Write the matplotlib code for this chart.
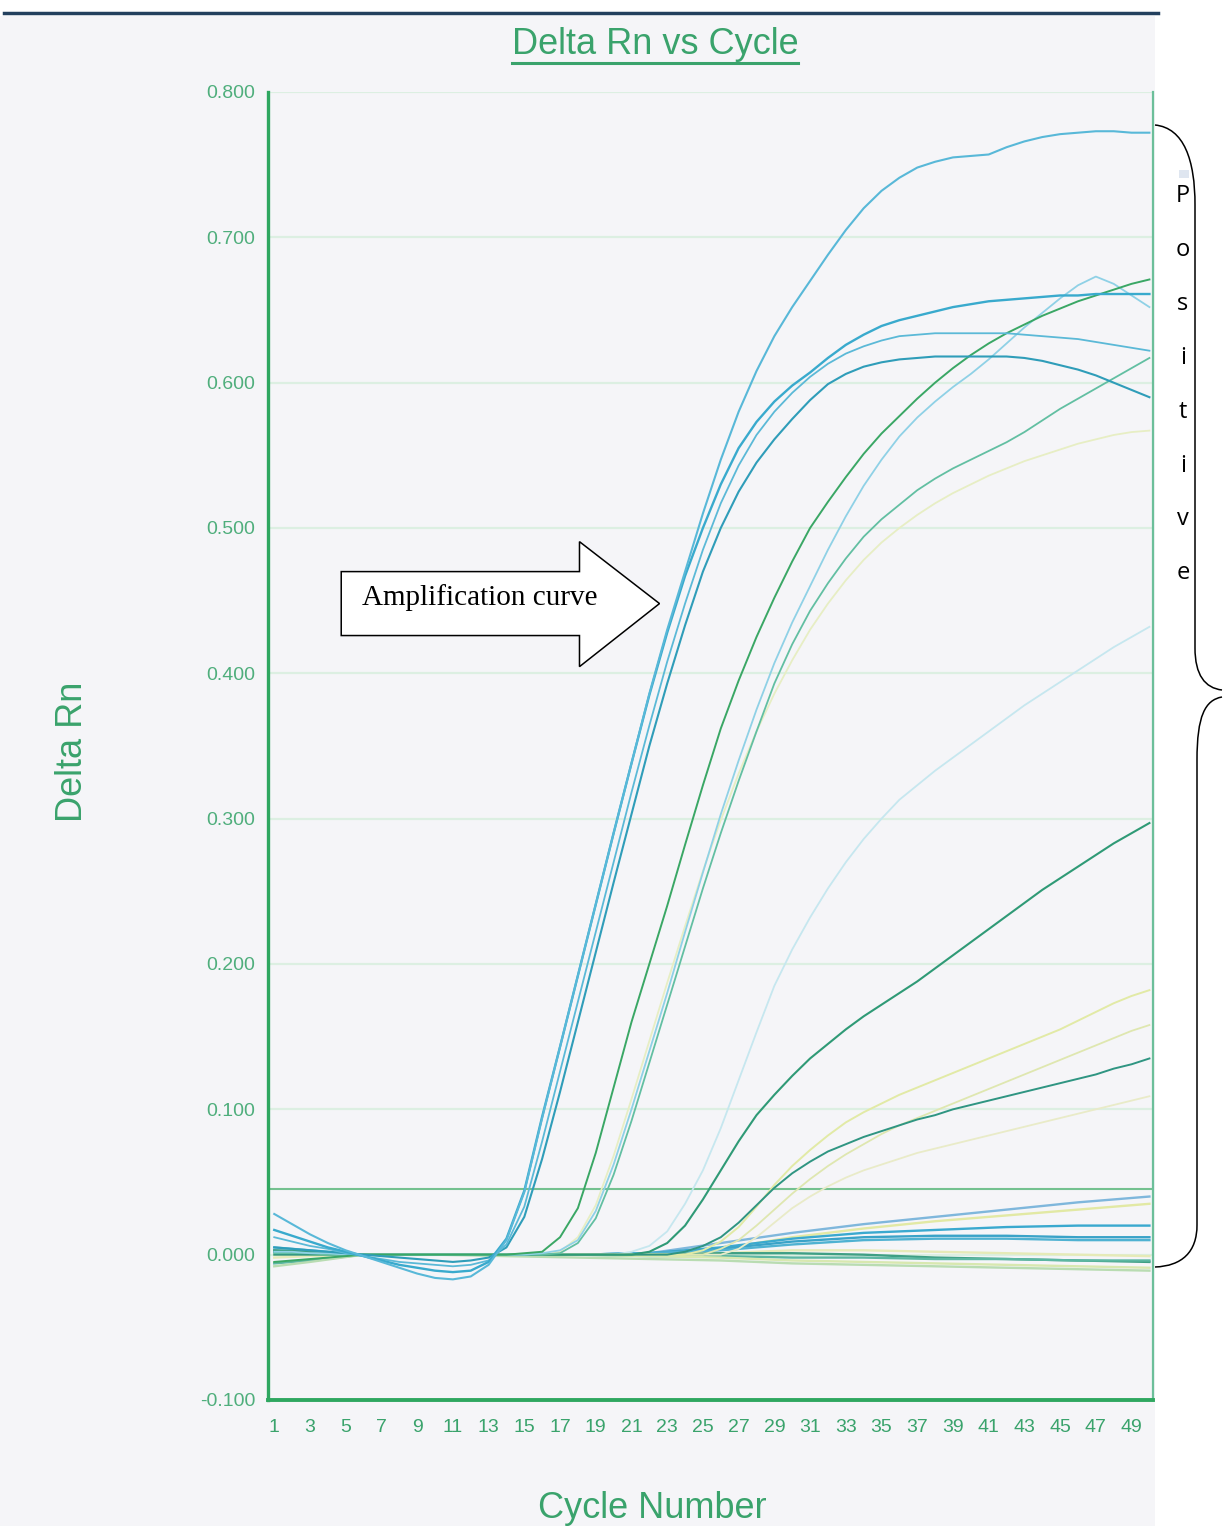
import numpy as np
import matplotlib
matplotlib.use("Agg")
import matplotlib.pyplot as plt
from matplotlib.patches import Polygon, Rectangle, PathPatch
from matplotlib.path import Path
from matplotlib.lines import Line2D

plt.rcParams['font.family'] = ['Liberation Sans', 'DejaVu Sans']

W, H = 1224, 1526

# ---- data: Delta Rn per cycle ----
cycles = np.arange(1, 51)

# early blue group (with baseline dip)
t1 = [0.028, 0.021, 0.014, 0.008, 0.003, -0.001, -0.005, -0.009, -0.013, -0.016, -0.017, -0.015, -0.007,
      0.010, 0.043, 0.094, 0.143, 0.192, 0.241, 0.290, 0.338, 0.386, 0.430, 0.470, 0.510,
      0.547, 0.580, 0.608, 0.632, 0.652, 0.670, 0.688, 0.705, 0.720, 0.732, 0.741, 0.748, 0.752, 0.755, 0.756,
      0.757, 0.762, 0.766, 0.769, 0.771, 0.772, 0.773, 0.773, 0.772, 0.772]
p2 = [0.017, 0.013, 0.009, 0.005, 0.002, -0.001, -0.004, -0.007, -0.009, -0.011, -0.012, -0.011, -0.005,
      0.011, 0.044, 0.095, 0.143, 0.192, 0.241, 0.290, 0.338, 0.385, 0.428, 0.467, 0.500,
      0.530, 0.555, 0.573, 0.587, 0.598, 0.607, 0.617, 0.626, 0.633, 0.639, 0.643, 0.646, 0.649, 0.652, 0.654,
      0.656, 0.657, 0.658, 0.659, 0.660, 0.660, 0.661, 0.661, 0.661, 0.661]
p3 = [0.012, 0.009, 0.006, 0.004, 0.001, -0.001, -0.003, -0.005, -0.006, -0.007, -0.008, -0.007, -0.004,
      0.007, 0.033, 0.078, 0.126, 0.174, 0.222, 0.270, 0.318, 0.364, 0.408, 0.448, 0.485,
      0.517, 0.543, 0.564, 0.580, 0.593, 0.604, 0.613, 0.620, 0.625, 0.629, 0.632, 0.633, 0.634, 0.634, 0.634,
      0.634, 0.634, 0.633, 0.632, 0.631, 0.630, 0.628, 0.626, 0.624, 0.622]
p4 = [0.005, 0.004, 0.003, 0.002, 0.001, 0.000, -0.001, -0.002, -0.003, -0.004, -0.005, -0.004, -0.002,
      0.005, 0.026, 0.066, 0.112, 0.160, 0.208, 0.256, 0.303, 0.350, 0.393, 0.433, 0.470,
      0.500, 0.525, 0.545, 0.561, 0.575, 0.588, 0.599, 0.606, 0.611, 0.614, 0.616, 0.617, 0.618, 0.618, 0.618,
      0.618, 0.618, 0.617, 0.615, 0.612, 0.609, 0.605, 0.600, 0.595, 0.590]

# later group
g1 = [-0.005, -0.004, -0.003, -0.002, -0.001, 0.0, 0.0, 0.0, 0.0, 0.0, 0.0, 0.0, 0.0, 0.0, 0.001, 0.002,
      0.012, 0.032, 0.070, 0.115, 0.160, 0.200, 0.240, 0.282, 0.323, 0.362, 0.395, 0.425, 0.452, 0.477,
      0.500, 0.518, 0.535, 0.551, 0.565, 0.577, 0.589, 0.600, 0.610, 0.619, 0.627, 0.634, 0.640, 0.646,
      0.651, 0.656, 0.660, 0.664, 0.668, 0.671]
p5 = [0.002, 0.002, 0.001, 0.001, 0.0, 0.0, 0.0, 0.0, 0.0, 0.0, 0.0, 0.0, 0.0, 0.0, 0.0, 0.001,
      0.003, 0.010, 0.030, 0.062, 0.100, 0.140, 0.180, 0.222, 0.263, 0.303, 0.340, 0.375, 0.407, 0.435,
      0.460, 0.485, 0.508, 0.529, 0.547, 0.563, 0.576, 0.587, 0.597, 0.606, 0.616, 0.627, 0.638, 0.648,
      0.658, 0.667, 0.673, 0.668, 0.660, 0.652]
g2 = [0.001, 0.001, 0.001, 0.0, 0.0, 0.0, 0.0, 0.0, 0.0, 0.0, 0.0, 0.0, 0.0, 0.0, 0.0, 0.0,
      0.001, 0.008, 0.025, 0.055, 0.092, 0.132, 0.172, 0.212, 0.252, 0.290, 0.326, 0.360, 0.393, 0.420,
      0.443, 0.462, 0.479, 0.494, 0.506, 0.516, 0.526, 0.534, 0.541, 0.547, 0.553, 0.559, 0.566, 0.574,
      0.582, 0.589, 0.596, 0.603, 0.610, 0.617]
y1 = [0.0, 0.0, 0.0, 0.0, 0.0, 0.0, 0.0, 0.0, 0.0, 0.0, 0.0, 0.0, 0.0, 0.0, 0.0, 0.0,
      0.002, 0.012, 0.034, 0.068, 0.107, 0.147, 0.187, 0.226, 0.264, 0.299, 0.331, 0.360, 0.386, 0.409,
      0.430, 0.448, 0.464, 0.478, 0.490, 0.500, 0.509, 0.517, 0.524, 0.530, 0.536, 0.541, 0.546, 0.550,
      0.554, 0.558, 0.561, 0.564, 0.566, 0.567]
l1 = [0.0, 0.0, 0.0, 0.0, 0.0, 0.0, 0.0, 0.0, 0.0, 0.0, 0.0, 0.0, 0.0, 0.0, 0.0, 0.0, 0.0, 0.0, 0.0, 0.0,
      0.002, 0.006, 0.016, 0.035, 0.058, 0.087, 0.120, 0.153, 0.185, 0.210, 0.232, 0.252, 0.270, 0.286,
      0.300, 0.313, 0.323, 0.333, 0.342, 0.351, 0.360, 0.369, 0.378, 0.386, 0.394, 0.402, 0.410, 0.418,
      0.425, 0.432]
g3 = [0.002, 0.002, 0.001, 0.001, 0.0, 0.0, 0.0, 0.0, 0.0, 0.0, 0.0, 0.0, 0.0, 0.0, 0.0, 0.0, 0.0, 0.0, 0.0, 0.0,
      0.000, 0.002, 0.008, 0.020, 0.038, 0.058, 0.078, 0.096, 0.110, 0.123, 0.135, 0.145, 0.155, 0.164,
      0.172, 0.180, 0.188, 0.197, 0.206, 0.215, 0.224, 0.233, 0.242, 0.251, 0.259, 0.267, 0.275, 0.283,
      0.290, 0.297]
g4 = [0.0, 0.0, 0.0, 0.0, 0.0, 0.0, 0.0, 0.0, 0.0, 0.0, 0.0, 0.0, 0.0, 0.0, 0.0, 0.0, 0.0, 0.0, 0.0, 0.0, 0.0, 0.0,
      0.000, 0.002, 0.006, 0.012, 0.022, 0.034, 0.046, 0.056, 0.064, 0.071, 0.076, 0.081, 0.085, 0.089,
      0.093, 0.096, 0.100, 0.103, 0.106, 0.109, 0.112, 0.115, 0.118, 0.121, 0.124, 0.128, 0.131, 0.135]
y2 = [0.0] * 23 + [0.000, 0.003, 0.009, 0.019, 0.033, 0.048, 0.061, 0.072, 0.082, 0.091, 0.098, 0.104, 0.110,
                   0.115, 0.120, 0.125, 0.130, 0.135, 0.140, 0.145, 0.150, 0.155, 0.161, 0.167, 0.173, 0.178, 0.182]
y3 = [0.0] * 24 + [0.000, 0.004, 0.010, 0.020, 0.031, 0.042, 0.052, 0.061, 0.069, 0.076, 0.083, 0.089, 0.094,
                   0.099, 0.104, 0.109, 0.114, 0.119, 0.124, 0.129, 0.134, 0.139, 0.144, 0.149, 0.154, 0.158]
y4 = [0.0] * 25 + [0.000, 0.004, 0.012, 0.022, 0.032, 0.040, 0.047, 0.053, 0.058, 0.062, 0.066, 0.070, 0.073,
                   0.076, 0.079, 0.082, 0.085, 0.088, 0.091, 0.094, 0.097, 0.100, 0.103, 0.106, 0.109]

# flat / negative wells, sampled on a coarser cycle grid
cyc_flat = [1, 3, 6, 10, 14, 18, 22, 26, 30, 34, 38, 42, 46, 50]
b1 = [0.003, 0.002, 0.0, 0.0, 0.0, 0.0, 0.001, 0.008, 0.015, 0.021, 0.026, 0.031, 0.036, 0.040]
y5 = [0.0, 0.0, 0.0, 0.0, 0.0, 0.0, 0.0, 0.004, 0.012, 0.018, 0.023, 0.027, 0.031, 0.035]
b2 = [0.002, 0.001, 0.0, 0.0, 0.0, 0.0, 0.001, 0.005, 0.011, 0.015, 0.017, 0.019, 0.020, 0.020]
b3 = [0.0, 0.0, 0.0, 0.0, 0.0, 0.0, 0.001, 0.004, 0.009, 0.012, 0.013, 0.013, 0.012, 0.012]
b4 = [0.005, 0.003, 0.0, 0.0, 0.0, 0.0, 0.001, 0.003, 0.007, 0.010, 0.011, 0.011, 0.010, 0.010]
y6 = [-0.002, -0.001, 0.0, 0.0, 0.0, 0.0, 0.0, 0.001, 0.003, 0.003, 0.002, 0.001, 0.0, -0.001]
g5 = [0.003, 0.002, 0.0, 0.0, 0.0, 0.0, 0.0, 0.001, 0.001, 0.0, -0.002, -0.003, -0.004, -0.005]
g6 = [-0.006, -0.004, 0.0, 0.0, 0.0, 0.0, -0.001, -0.001, -0.002, -0.002, -0.003, -0.003, -0.004, -0.004]
y7 = [0.0, 0.0, 0.0, 0.0, 0.0, 0.0, -0.001, -0.002, -0.004, -0.005, -0.006, -0.007, -0.008, -0.009]
g7 = [-0.008, -0.005, 0.0, 0.0, -0.001, -0.002, -0.003, -0.004, -0.006, -0.007, -0.008, -0.009, -0.010, -0.011]

threshold = 0.045
yticks = [-0.1, 0.0, 0.1, 0.2, 0.3, 0.4, 0.5, 0.6, 0.7, 0.8]
xticks = list(range(1, 50, 2))

GREEN = '#3aa36c'
LABEL = '#4fae7c'


def px(x, y):
    return (x / W, 1 - y / H)


fig = plt.figure(figsize=(W / 100, H / 100), dpi=100, facecolor='white')

# scanned page background + top rule
fig.patches.append(Rectangle(px(0, 1526), 1155 / W, 1510 / H, transform=fig.transFigure,
                             facecolor='#f5f5f8', edgecolor='none', zorder=-10))
fig.lines.append(Line2D([4 / W, 1158 / W], [1 - 13 / H, 1 - 13 / H], transform=fig.transFigure,
                        color='#23405e', lw=2.5))

ax = fig.add_axes([268 / W, 126 / H, 885 / W, 1308 / H])
ax.set_facecolor('none')
ax.set_xlim(0.65, 50.2)
ax.set_ylim(-0.1, 0.8)

for v in yticks[1:]:
    ax.axhline(v, color='#dcefe2', lw=1.6, zorder=0)
ax.axhline(threshold, color='#74c190', lw=1.5, zorder=1)

# flat wells first so amplification curves sit on top
flat = [(b1, '#7fb7dc'), (y5, '#e2e9a4'), (b2, '#3aa9cf'), (b3, '#3aa3c8'), (b4, '#4fb2d2'),
        (y6, '#e6eab8'), (g5, '#3f9f84'), (g6, '#5cb7a2'), (y7, '#d8e8b0'), (g7, '#b9dcb2')]
for vals, col in flat:
    ax.plot(cyc_flat, vals, color=col, lw=1.7, zorder=2)

curves = [(l1, '#c6e7ef', 1.3), (y1, '#e7eec4', 1.3), (y4, '#e9ebc8', 1.3), (y3, '#dfe7b0', 1.3),
          (y2, '#e2eaa6', 1.4), (g4, '#2f9582', 1.4), (g3, '#2f9a76', 1.5),
          (g2, '#62bfa2', 1.3), (p5, '#8fd1e6', 1.3), (g1, '#3aa765', 1.4),
          (p4, '#2f9db9', 1.5), (p3, '#5bb9d7', 1.3), (p2, '#39aacd', 1.7), (t1, '#58b8d8', 1.5)]
for vals, col, lw in curves:
    ax.plot(cycles, vals, color=col, lw=lw, zorder=3)

# axes styling
ax.spines['top'].set_visible(False)
ax.spines['left'].set_color('#2fa760')
ax.spines['left'].set_linewidth(2.4)
ax.spines['bottom'].set_color('#2fa760')
ax.spines['bottom'].set_linewidth(2.8)
ax.spines['right'].set_color('#6cbf9a')
ax.spines['right'].set_linewidth(1.6)

ax.set_yticks(yticks)
ax.set_yticklabels(['%.3f' % v for v in yticks])
ax.set_xticks(xticks)
ax.set_xticklabels([str(c) for c in xticks])
ax.tick_params(axis='y', length=0, pad=9, labelsize=14, labelcolor=LABEL)
ax.tick_params(axis='x', length=0, pad=14, labelsize=14, labelcolor=GREEN)

fig.text(72 / W, 1 - 752 / H, 'Delta Rn', rotation=90, ha='center', va='center',
         fontsize=26, color=GREEN)
fig.text(652 / W, 1 - 1508 / H, 'Cycle Number', ha='center', va='center',
         fontsize=26, color=GREEN)
title = fig.text(655 / W, 1 - 44 / H, 'Delta Rn vs Cycle', ha='center', va='center',
                 fontsize=26, color=GREEN)

# "Amplification curve" block arrow, placed in data space
arrow_x = [4.75, 18.09, 18.09, 22.57, 18.09, 18.09, 4.75]
arrow_y = [0.470, 0.470, 0.4906, 0.448, 0.4046, 0.426, 0.426]
ax.add_patch(Polygon(np.column_stack([arrow_x, arrow_y]), closed=True, facecolor='white',
                     edgecolor='black', lw=1.1, zorder=6))
ax.text(5.9, 0.452, 'Amplification curve', ha='left', va='center', fontsize=21,
        family=['Liberation Serif', 'DejaVu Serif'], color='black', zorder=7)

# brace on the right with the vertical "Positive" label
codes = [Path.MOVETO, Path.CURVE4, Path.CURVE4, Path.CURVE4, Path.LINETO,
         Path.CURVE4, Path.CURVE4, Path.CURVE4]
upper = [(1155, 125), (1184, 128), (1195, 160), (1195, 205), (1195, 648),
         (1195, 675), (1205, 688), (1222, 690)]
lower = [(1222, 697), (1205, 700), (1197, 716), (1197, 760), (1197, 1225),
         (1197, 1252), (1182, 1266), (1155, 1267)]
for pts in (upper, lower):
    fig.patches.append(PathPatch(Path([px(*p) for p in pts], codes), transform=fig.transFigure,
                                 facecolor='none', edgecolor='black', lw=1.1))
fig.patches.append(Rectangle(px(1179, 178), 10 / W, 8 / H, transform=fig.transFigure,
                             facecolor='#dfe6f0', edgecolor='none'))
for i, ch in enumerate('Positive'):
    fig.text(1183 / W, 1 - (196 + i * 53.9) / H, ch, ha='center', va='center',
             fontsize=17, family=['Open Sans', 'DejaVu Sans'], color='black')

# underline the title
fig.canvas.draw()
bb = title.get_window_extent()
fig.lines.append(Line2D([bb.x0 / W, bb.x1 / W], [1 - 63 / H, 1 - 63 / H],
                        transform=fig.transFigure, color=GREEN, lw=2.2))

fig.savefig('out.png', dpi=100, facecolor='white')
